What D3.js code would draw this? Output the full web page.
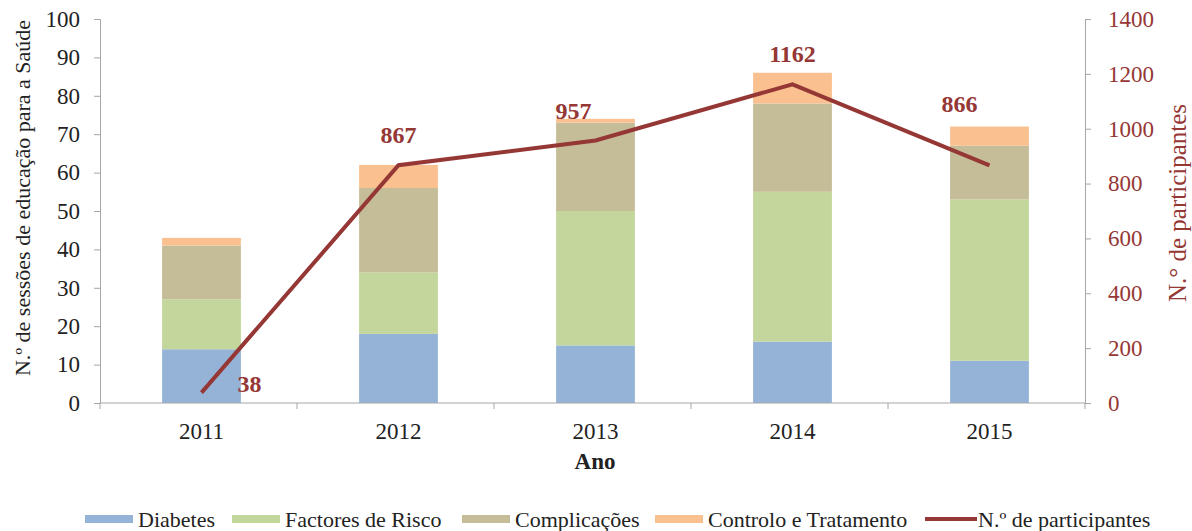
<!DOCTYPE html>
<html>
<head>
<meta charset="utf-8">
<script src="https://cdn.jsdelivr.net/npm/d3@7"></script>
<style>
  body { margin: 0; background: #fff; }
  svg, svg text { font-family: "Liberation Serif", "Times New Roman", serif; }
  .axis path, .axis line { stroke: #a6a6a6; }
</style>
</head>
<body>
<svg width="1192" height="531"></svg>
<script>
// chart data
var years = ['2011', '2012', '2013', '2014', '2015'];
var seriesNames = ['Diabetes', 'Factores de Risco', 'Complicações', 'Controlo e Tratamento'];
var diabetes = [14, 18, 15, 16, 11];
var factoresRisco = [13, 16, 35, 39, 42];
var complicacoes = [14, 22, 23, 23, 14];
var controlo = [2, 6, 1, 8, 5];
var participantes = [38, 867, 957, 1162, 866];
var leftTicks = [0, 10, 20, 30, 40, 50, 60, 70, 80, 90, 100];
var rightTicks = [0, 200, 400, 600, 800, 1000, 1200, 1400];

var colors = ['#95b3d7', '#c3d69b', '#c4bd97', '#fac090'];
var lineColor = '#953735';
// label offsets relative to each point (dx, dy)
var labelNudge = [[48, -1], [0, -22], [-22, -22], [0, -22], [-30, -53]];

var svg = d3.select('svg');
var m = {left: 100, right: 1085, top: 19, bottom: 403};

var rows = years.map(function(y, i) {
  return {year: y, 'Diabetes': diabetes[i], 'Factores de Risco': factoresRisco[i],
          'Complicações': complicacoes[i], 'Controlo e Tratamento': controlo[i]};
});
var stack = d3.stack().keys(seriesNames)(rows);

var x = d3.scaleBand().domain(years).range([m.left + 3, m.right + 3]).paddingInner(0.6).paddingOuter(0.3);
var yL = d3.scaleLinear().domain([0, 100]).range([m.bottom, m.top]);
var yR = d3.scaleLinear().domain([0, 1400]).range([m.bottom, m.top]);

// bars
svg.append('g').selectAll('g').data(stack).enter().append('g')
  .attr('fill', function(d, i) { return colors[i]; })
  .selectAll('rect').data(function(d) { return d; }).enter().append('rect')
  .attr('x', function(d) { return x(d.data.year); })
  .attr('width', x.bandwidth())
  .attr('y', function(d) { return yL(d[1]); })
  .attr('height', function(d) { return yL(d[0]) - yL(d[1]); });

// left axis
var gL = svg.append('g').attr('class', 'axis').attr('transform', 'translate(' + m.left + ',0)')
  .call(d3.axisLeft(yL).tickValues(leftTicks).tickSize(6).tickSizeOuter(6).tickPadding(14));
gL.attr('font-family', null);
gL.selectAll('text').style('font-size', '23px').attr('fill', '#222');

// right axis
var gR = svg.append('g').attr('class', 'axis').attr('transform', 'translate(' + m.right + ',0)')
  .call(d3.axisRight(yR).tickValues(rightTicks).tickFormat(d3.format('d')).tickSize(6).tickSizeOuter(6).tickPadding(17));
gR.attr('font-family', null);
gR.selectAll('text').style('font-size', '23px').attr('fill', lineColor);

// bottom axis: ticks between categories
var step = x.step();
var gB = svg.append('g').attr('class', 'axis').attr('transform', 'translate(0,' + m.bottom + ')');
gB.append('line').attr('x1', m.left).attr('x2', m.right).attr('stroke', '#a6a6a6');
gB.selectAll('line.sep').data(d3.range(years.length + 1)).enter().append('line')
  .attr('class', 'sep')
  .attr('x1', function(i) { return m.left + i * step; })
  .attr('x2', function(i) { return m.left + i * step; })
  .attr('y1', 0).attr('y2', 6).attr('stroke', '#a6a6a6');
gB.selectAll('text').data(years).enter().append('text')
  .attr('x', function(d) { return x(d) + x.bandwidth() / 2; })
  .attr('y', 36).attr('text-anchor', 'middle')
  .style('font-size', '23px').attr('fill', '#222').text(function(d) { return d; });

// axis titles
svg.append('text').attr('x', 595).attr('y', 469).attr('text-anchor', 'middle')
  .style('font-size', '23px').style('font-weight', 'bold').attr('fill', '#222').text('Ano');
svg.append('text').attr('transform', 'translate(30,' + 198 + ') rotate(-90)')
  .attr('text-anchor', 'middle').style('font-size', '22px').attr('fill', '#222')
  .text('N.º de sessões de educação para a Saúde');
svg.append('text').attr('transform', 'translate(1186,' + 203 + ') rotate(-90)')
  .attr('text-anchor', 'middle').style('font-size', '25px').attr('fill', lineColor)
  .text('N.° de participantes');

// line
var line = d3.line()
  .x(function(d, i) { return x(years[i]) + x.bandwidth() / 2; })
  .y(function(d) { return yR(d); });
svg.append('path').datum(participantes).attr('d', line)
  .attr('fill', 'none').attr('stroke', lineColor).attr('stroke-width', 4);

svg.append('g').selectAll('text').data(participantes).enter().append('text')
  .attr('x', function(d, i) { return x(years[i]) + x.bandwidth() / 2 + labelNudge[i][0]; })
  .attr('y', function(d, i) { return yR(d) + labelNudge[i][1]; })
  .attr('text-anchor', 'middle').style('font-size', '24px').style('font-weight', 'bold')
  .attr('fill', lineColor).text(function(d) { return d; });

// legend
var legendItems = [
  {name: seriesNames[0], x: 85, type: 'rect', color: colors[0]},
  {name: seriesNames[1], x: 232, type: 'rect', color: colors[1]},
  {name: seriesNames[2], x: 462, type: 'rect', color: colors[2]},
  {name: seriesNames[3], x: 655, type: 'rect', color: colors[3]},
  {name: 'N.º de participantes', x: 925, type: 'line', color: lineColor}
];
var lg = svg.append('g').selectAll('g').data(legendItems).enter().append('g')
  .attr('transform', function(d) { return 'translate(' + d.x + ',519)'; });
lg.filter(function(d) { return d.type === 'rect'; }).append('rect')
  .attr('x', 0).attr('y', -4).attr('width', 48).attr('height', 8)
  .attr('fill', function(d) { return d.color; });
lg.filter(function(d) { return d.type === 'line'; }).append('line')
  .attr('x1', 0).attr('x2', 52).attr('y1', 0).attr('y2', 0)
  .attr('stroke', function(d) { return d.color; }).attr('stroke-width', 4);
lg.append('text').attr('x', 53).attr('y', 8)
  .style('font-size', '22px').attr('fill', '#222').text(function(d) { return d.name; });
</script>
</body>
</html>
